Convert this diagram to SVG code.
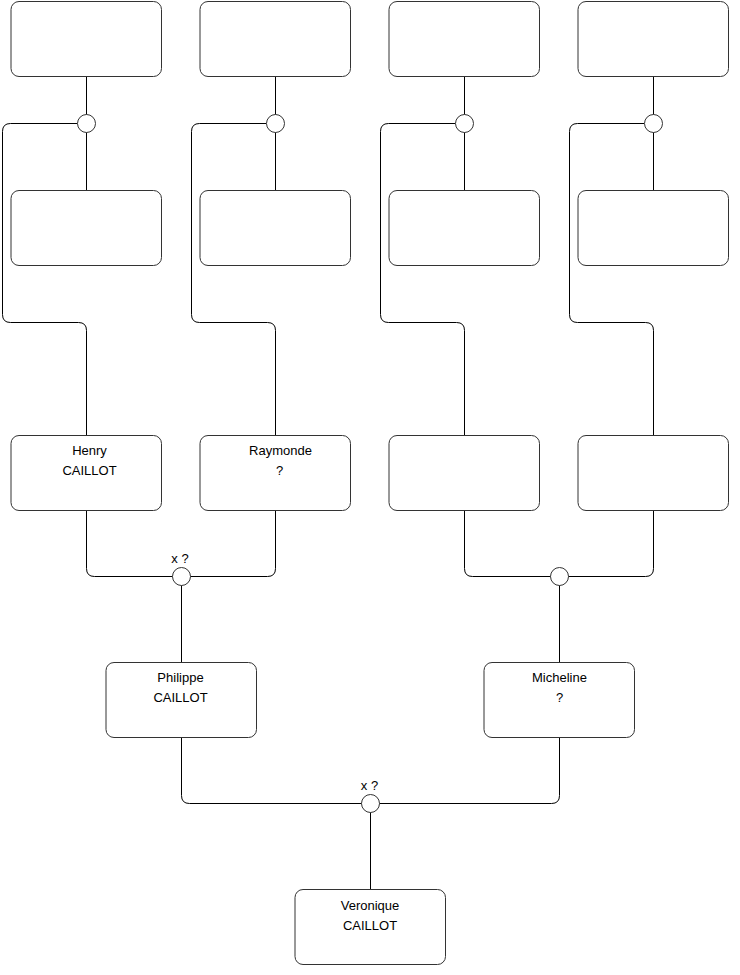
<svg xmlns="http://www.w3.org/2000/svg" width="740" height="975" viewBox="0 0 740 975">
<style>
.box{fill:#fff;stroke:#333;stroke-width:1}
.ln{fill:none;stroke:#000;stroke-width:1}
.dot{fill:#fff;stroke:#333;stroke-width:1}
text{font-family:"Liberation Sans",Arial,sans-serif;font-size:13px;fill:#000;text-anchor:middle}
</style>
<rect width="740" height="975" fill="#fff"/>
<g id="connectors" transform="translate(0.5,0.5)">
<path class="ln" d="M86 76V190M77 123H10Q2 123 2 131V314Q2 322 10 322H78Q86 322 86 330V435"/>
<path class="ln" d="M275 76V190M266 123H199Q191 123 191 131V314Q191 322 199 322H267Q275 322 275 330V435"/>
<path class="ln" d="M464 76V190M455 123H388Q380 123 380 131V314Q380 322 388 322H456Q464 322 464 330V435"/>
<path class="ln" d="M653 76V190M644 123H577Q569 123 569 131V314Q569 322 577 322H645Q653 322 653 330V435"/>
<path class="ln" d="M86 510V568Q86 576 94 576H267Q275 576 275 568V510M181 576V662"/>
<path class="ln" d="M464 510V568Q464 576 472 576H645Q653 576 653 568V510M559 576V662"/>
<path class="ln" d="M181 737V795Q181 803 189 803H551Q559 803 559 795V737M370 803V889"/>
</g>
<g transform="translate(0.5,0.5)">
<g id="c1"><circle class="dot" cx="86" cy="123" r="9"/></g>
<g id="c2"><circle class="dot" cx="275" cy="123" r="9"/></g>
<g id="c3"><circle class="dot" cx="464" cy="123" r="9"/></g>
<g id="c4"><circle class="dot" cx="653" cy="123" r="9"/></g>
<g id="c5"><circle class="dot" cx="181" cy="576" r="9"/><text x="179.5" y="562">x ?</text></g>
<g id="c6"><circle class="dot" cx="559" cy="576" r="9"/></g>
<g id="c7"><circle class="dot" cx="370" cy="803" r="9"/><text x="369" y="789">x ?</text></g>

<g id="n1"><rect class="box" x="10.5" y="1" width="150.5" height="75" rx="8"/></g>
<g id="n2"><rect class="box" x="199.5" y="1" width="150.5" height="75" rx="8"/></g>
<g id="n3"><rect class="box" x="388.5" y="1" width="150.5" height="75" rx="8"/></g>
<g id="n4"><rect class="box" x="577.5" y="1" width="150.5" height="75" rx="8"/></g>
<g id="n5"><rect class="box" x="10.5" y="190" width="150.5" height="75" rx="8"/></g>
<g id="n6"><rect class="box" x="199.5" y="190" width="150.5" height="75" rx="8"/></g>
<g id="n7"><rect class="box" x="388.5" y="190" width="150.5" height="75" rx="8"/></g>
<g id="n8"><rect class="box" x="577.5" y="190" width="150.5" height="75" rx="8"/></g>
<g id="henry"><rect class="box" x="10.5" y="435" width="150.5" height="75" rx="8"/><text x="89" y="454.5">Henry</text><text x="89" y="474.5">CAILLOT</text></g>
<g id="raymonde"><rect class="box" x="199.5" y="435" width="150.5" height="75" rx="8"/><text x="280" y="454.5">Raymonde</text><text x="279" y="474.5">?</text></g>
<g id="n11"><rect class="box" x="388.5" y="435" width="150.5" height="75" rx="8"/></g>
<g id="n12"><rect class="box" x="577.5" y="435" width="150.5" height="75" rx="8"/></g>
<g id="philippe"><rect class="box" x="105.5" y="662" width="150.5" height="75" rx="8"/><text x="180" y="681.5">Philippe</text><text x="180" y="701">CAILLOT</text></g>
<g id="micheline"><rect class="box" x="483.5" y="662" width="150.5" height="75" rx="8"/><text x="559" y="681.5">Micheline</text><text x="559" y="701">?</text></g>
<g id="veronique"><rect class="box" x="294.5" y="889" width="150.5" height="75" rx="8"/><text x="369.5" y="909">Veronique</text><text x="369.5" y="929">CAILLOT</text></g>
</g>
</svg>
